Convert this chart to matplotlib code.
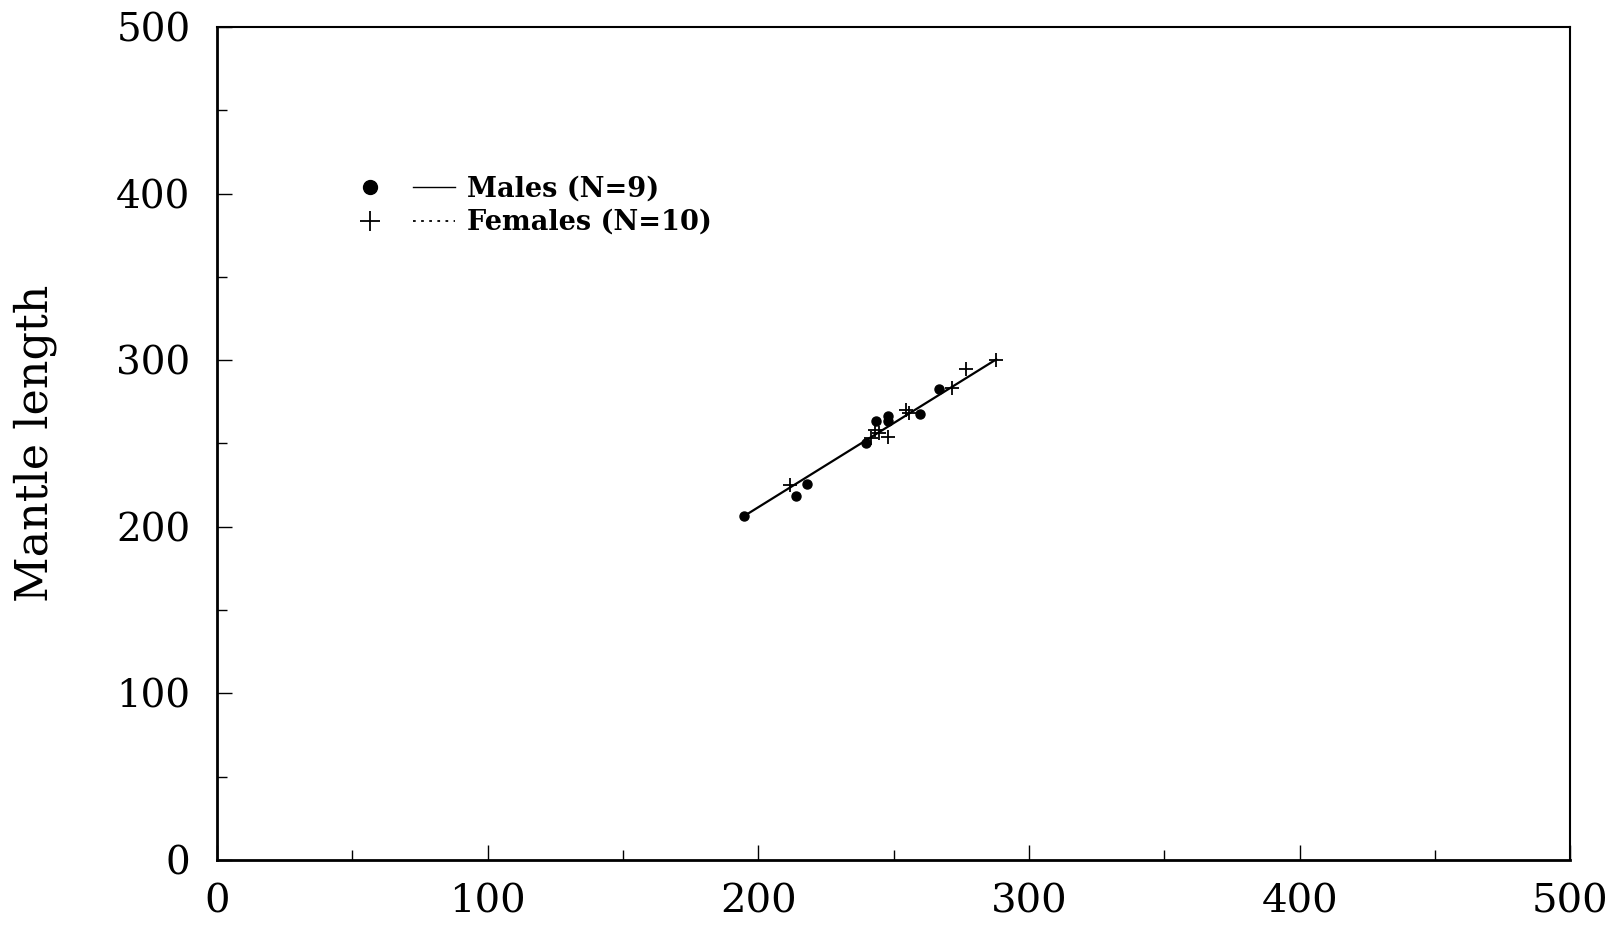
import matplotlib
matplotlib.use('Agg')
import matplotlib.pyplot as plt
from matplotlib.lines import Line2D
from matplotlib.legend_handler import HandlerTuple

male_x = [194.6, 213.8, 217.8, 239.9, 243.6, 247.9, 247.9, 259.6, 266.7]
male_y = [206.7, 218.7, 225.7, 250.1, 263.5, 266.5, 263.5, 267.5, 282.7]
female_x = [211.6, 243.0, 244.5, 247.9, 254.7, 255.5, 241.5, 271.7, 276.8, 287.9]
female_y = [225.1, 258.1, 256.0, 254.1, 270.1, 268.5, 253.5, 283.1, 294.5, 300.1]

# 回帰直線の端点
fit_x = [194.3, 287.9]
fit_y = [206.0, 300.5]

x_ticks = [0, 100, 200, 300, 400, 500]
y_ticks = [0, 100, 200, 300, 400, 500]

fig = plt.figure(figsize=(16.19, 9.25), dpi=100)
ax = fig.add_axes([0.134, 0.0703, 0.836, 0.9005])

ax.plot(fit_x, fit_y, color='black', linewidth=1.6, zorder=2)
ax.plot(male_x, male_y, linestyle='none', marker='o', markersize=6.5,
        color='black', zorder=3)
ax.plot(female_x, female_y, linestyle='none', marker='+', markersize=10,
        markeredgewidth=1.3, color='black', zorder=3)

ax.set_xlim(0, 500)
ax.set_ylim(0, 500)
ax.set_xticks(x_ticks)
ax.set_yticks(y_ticks)
ax.set_xticks(range(50, 500, 100), minor=True)
ax.set_yticks(range(50, 500, 100), minor=True)
ax.tick_params(which='major', direction='in', length=11, width=1.0,
               top=False, right=False)
ax.tick_params(which='minor', direction='in', length=7.5, width=1.0,
               top=False, right=False)

for lbl in ax.get_yticklabels():
    lbl.set_fontfamily('DejaVu Serif')
    lbl.set_fontsize(28)
for lbl in ax.get_xticklabels():
    lbl.set_fontfamily('DejaVu Serif')
    lbl.set_fontsize(29)
ax.tick_params(axis='y', pad=19)
ax.tick_params(axis='x', pad=17)

ax.set_ylabel('Mantle length', fontsize=32, family='DejaVu Serif')
ax.yaxis.set_label_coords(-0.118, 0.5)

for side in ['left', 'bottom']:
    ax.spines[side].set_linewidth(2.0)
for side in ['top', 'right']:
    ax.spines[side].set_linewidth(1.5)

# 凡例（マーカー + 線種）
h_m = (Line2D([], [], linestyle='none', marker='o', markersize=10, color='black'),
       Line2D([], [], color='black', linewidth=1.0))
h_f = (Line2D([], [], linestyle='none', marker='+', markersize=14,
              markeredgewidth=1.3, color='black'),
       Line2D([], [], color='black', linewidth=1.3, linestyle=(0, (1.5, 3))))
leg = ax.legend([h_m, h_f], ['Males (N=9)', 'Females (N=10)'],
                handler_map={tuple: HandlerTuple(ndivide=None, pad=0.84)},
                loc='upper left', bbox_to_anchor=(0.0975, 0.822), frameon=False,
                borderpad=0, borderaxespad=0,
                handlelength=3.9, handletextpad=0.46, labelspacing=0.25,
                prop={'family': 'DejaVu Serif', 'weight': 'bold', 'size': 19.5})

fig.savefig('out.png', dpi=100)
